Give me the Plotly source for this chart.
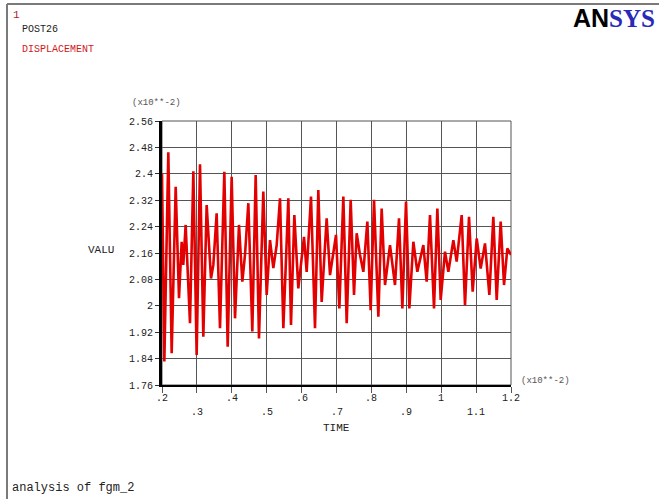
import plotly.graph_objects as go

# time (x10**-2) and displacement value (x10**-2)
time = [0.200, 0.2035, 0.2067, 0.2181, 0.2277, 0.2392, 0.2487, 0.2564, 0.2610, 0.2678,
        0.2802, 0.2898, 0.2993, 0.3089, 0.3184, 0.3280, 0.3404, 0.3471, 0.3566, 0.3662,
        0.3786, 0.3882, 0.3996, 0.4092, 0.4206, 0.4302, 0.4378, 0.4474, 0.4588, 0.4684,
        0.4779, 0.4903, 0.4999, 0.5095, 0.5190, 0.5286, 0.5381, 0.5477, 0.5620, 0.5696,
        0.5792, 0.5906, 0.6001, 0.6069, 0.6145, 0.6269, 0.6384, 0.6479, 0.6575, 0.6718,
        0.6814, 0.6986, 0.7081, 0.7196, 0.7292, 0.7406, 0.7502, 0.7578, 0.7674, 0.7769,
        0.7884, 0.7979, 0.8075, 0.8199, 0.8294, 0.8390, 0.8533, 0.8676, 0.8791, 0.8887,
        0.8992, 0.9087, 0.9202, 0.9316, 0.9488, 0.9584, 0.9679, 0.9794, 0.9890, 0.9985,
        1.0109, 1.0205, 1.0348, 1.0443, 1.0587, 1.0682, 1.0797, 1.0902, 1.1017, 1.1131,
        1.1255, 1.1380, 1.1494, 1.1590, 1.1704, 1.1800, 1.1895, 1.2000]
value = [2.400, 2.000, 1.831, 2.465, 1.856, 2.361, 2.023, 2.194, 2.124, 2.245,
         1.947, 2.408, 1.851, 2.429, 1.906, 2.305, 2.083, 2.124, 2.280, 1.932,
         2.406, 1.876, 2.391, 1.962, 2.245, 2.073, 2.154, 2.311, 1.922, 2.396,
         1.901, 2.346, 2.033, 2.199, 2.114, 2.184, 2.326, 1.932, 2.326, 1.942,
         2.275, 2.053, 2.154, 2.209, 2.103, 2.331, 1.932, 2.351, 2.012, 2.265,
         2.093, 2.215, 1.992, 2.331, 1.947, 2.321, 2.033, 2.220, 2.154, 2.103,
         2.255, 1.987, 2.321, 1.967, 2.295, 2.063, 2.184, 2.063, 2.265, 1.992,
         2.316, 1.992, 2.194, 2.103, 2.184, 2.073, 2.275, 1.992, 2.295, 2.018,
         2.164, 2.103, 2.199, 2.134, 2.275, 2.002, 2.270, 2.043, 2.204, 2.113,
         2.189, 2.033, 2.270, 2.018, 2.255, 2.063, 2.174, 2.154]

y_ticks = [1.76, 1.84, 1.92, 2.0, 2.08, 2.16, 2.24, 2.32, 2.4, 2.48, 2.56]
y_tick_labels = ["1.76", "1.84", "1.92", "2", "2.08", "2.16", "2.24", "2.32", "2.4", "2.48", "2.56"]
x_ticks = [0.2, 0.3, 0.4, 0.5, 0.6, 0.7, 0.8, 0.9, 1.0, 1.1, 1.2]
x_tick_labels = [".2", ".3", ".4", ".5", ".6", ".7", ".8", ".9", "1", "1.1", "1.2"]

MONO = "Liberation Mono"

fig = go.Figure()
fig.add_trace(go.Scatter(x=time, y=value, mode="lines",
                         line=dict(color="rgb(226,0,0)", width=2.6),
                         hoverinfo="x+y", showlegend=False))

fig.update_layout(
    width=659, height=499,
    margin=dict(l=162, r=148, t=121, b=114),
    paper_bgcolor="white", plot_bgcolor="white",
    showlegend=False,
    xaxis=dict(range=[0.2, 1.2], tickvals=x_ticks, showticklabels=False,
               showgrid=True, gridcolor="#555555", gridwidth=1,
               showline=True, linecolor="black", linewidth=2,
               ticks="outside", ticklen=6, tickcolor="#555555",
               zeroline=False, fixedrange=True),
    yaxis=dict(range=[1.76, 2.56], tickvals=y_ticks, ticktext=y_tick_labels,
               showgrid=True, gridcolor="#555555", gridwidth=1,
               showline=True, linecolor="black", linewidth=3,
               ticks="outside", ticklen=4, tickcolor="#333333",
               tickfont=dict(family=MONO, size=10, color="#222222"),
               zeroline=False, fixedrange=True),
)

ann = []
# staggered x tick labels
for i, (xv, lab) in enumerate(zip(x_ticks, x_tick_labels)):
    ann.append(dict(x=xv, y=0, xref="x", yref="paper", text=lab, showarrow=False,
                    yshift=-13 if i % 2 == 0 else -27, yanchor="middle",
                    font=dict(family=MONO, size=10, color="#222222")))

def px_x(px):
    return (px - 162) / 349.0

def px_y(py):
    return (385 - py) / 264.0

texts = [
    ("1", 11, 15, "left", 11, "#b02020"),
    ("POST26", 20, 29, "left", 10, "#222222"),
    ("DISPLACEMENT", 20, 49, "left", 10, "#d01818"),
    ("(x10**-2)", 130, 103, "left", 9, "#555555"),
    ("VALU", 86, 250, "left", 11, "#222222"),
    ("(x10**-2)", 519, 381, "left", 9, "#555555"),
    ("TIME", 336, 428, "center", 11, "#222222"),
    ("analysis of fgm_2", 10, 488, "left", 12, "#222222"),
]
for t, x, y, xa, sz, col in texts:
    ann.append(dict(x=px_x(x), y=px_y(y), xref="paper", yref="paper", text=t,
                    showarrow=False, xanchor=xa, yanchor="middle",
                    font=dict(family=MONO, size=sz, color=col)))

ann.append(dict(x=px_x(571), y=px_y(18), xref="paper", yref="paper",
                text="<b>AN</b><span style='color:#2a2ab8;font-family:Liberation Serif'><b>SYS</b></span>",
                showarrow=False, xanchor="left", yanchor="middle",
                font=dict(family="Liberation Sans", size=25, color="black")))
fig.update_layout(annotations=ann)

shapes = [
    # outer frame
    dict(type="line", xref="paper", yref="paper", x0=px_x(7), x1=px_x(660),
         y0=px_y(4), y1=px_y(4), line=dict(color="#7a7a7a", width=2)),
    dict(type="line", xref="paper", yref="paper", x0=px_x(7), x1=px_x(7),
         y0=px_y(4), y1=px_y(500), line=dict(color="#7a7a7a", width=2)),
    # plot box top/right
    dict(type="rect", xref="paper", yref="paper", x0=0, x1=1, y0=0, y1=1,
         line=dict(color="#555555", width=1), layer="below"),
]
fig.update_layout(shapes=shapes)

fig.write_html("out.html", config={"displayModeBar": False},
               post_script="document.body.style.margin='0';document.body.style.overflow='hidden';")
